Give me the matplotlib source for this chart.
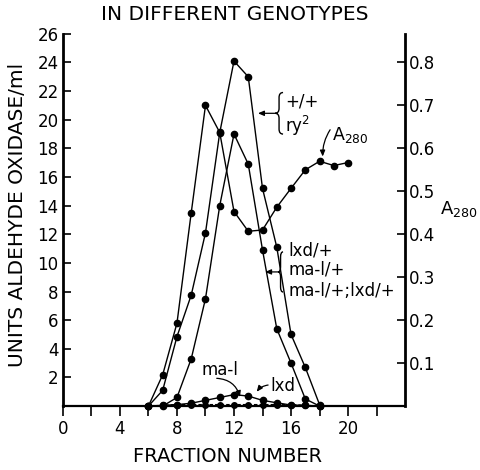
import numpy as np
import matplotlib
matplotlib.use("Agg")
import matplotlib.pyplot as plt
from matplotlib.path import Path
from matplotlib.patches import PathPatch

# ── Data ────────────────────────────────────────────────────────────────────
# aldehyde oxidase activity (units/ml) per fraction
frac_wt = np.arange(6, 19)          # +/+ , ry2
units_wt = [0, 1.1, 4.85, 7.75, 12.1, 19.1, 24.1, 23.0, 15.2, 11.1, 5.0, 2.7, 0.1]

frac_het = np.arange(7, 19)         # lxd/+ , ma-l/+ , ma-l/+;lxd/+
units_het = [0, 0.6, 3.3, 7.5, 14.0, 19.0, 16.9, 10.9, 5.4, 3.0, 0.5, 0.0]

frac_lxd = np.arange(6, 19)         # lxd
units_lxd = [0, 0.05, 0.1, 0.2, 0.4, 0.6, 0.8, 0.7, 0.4, 0.23, 0.07, 0.05, 0]

frac_mal = np.arange(6, 19)         # ma-l
units_mal = [0, 0.05, 0.1, 0.1, 0.1, 0.1, 0.1, 0.1, 0.1, 0.1, 0.1, 0.05, 0]

# absorbance at 280 nm (right axis)
frac_a280 = np.arange(6, 21)
a280 = [0, 0.073, 0.193, 0.45, 0.70, 0.637, 0.453, 0.407, 0.41, 0.463,
        0.507, 0.55, 0.57, 0.56, 0.567]

left_ticks = list(range(2, 27, 2))
right_ticks = [0.1, 0.2, 0.3, 0.4, 0.5, 0.6, 0.7, 0.8]
x_ticks = list(range(0, 23, 2))
x_labels = [str(t) if t % 4 == 0 else '' for t in x_ticks]


def brace(ax, x_tip, x_end, y0, y1):
    """Draw a '{' shaped brace with its point at x_tip."""
    ym = (y0 + y1) / 2
    xm = (x_tip + x_end) / 2
    verts = [(x_end, y1), (xm, y1), (xm, y1 - 0.35),
             (xm, ym + 0.35),
             (xm, ym), (x_tip, ym),
             (xm, ym), (xm, ym - 0.35),
             (xm, y0 + 0.35),
             (xm, y0), (x_end, y0)]
    codes = [Path.MOVETO, Path.CURVE3, Path.CURVE3,
             Path.LINETO,
             Path.CURVE3, Path.CURVE3,
             Path.CURVE3, Path.CURVE3,
             Path.LINETO,
             Path.CURVE3, Path.CURVE3]
    ax.add_patch(PathPatch(Path(verts, codes), fill=False, lw=1.0,
                           color='black', clip_on=False))


fig = plt.figure(figsize=(4.8, 4.7), dpi=100)
ax = fig.add_axes([0.131, 0.136, 0.713, 0.792])
ax2 = ax.twinx()

ax.set_xlim(0, 24)
ax.set_ylim(0, 26)
ax2.set_ylim(0, 26 / 30)

line_kw = dict(color='black', lw=1.0, marker='o', ms=4.5, clip_on=False)
ax.plot(frac_wt, units_wt, **line_kw)
ax.plot(frac_het, units_het, **line_kw)
ax.plot(frac_lxd, units_lxd, **line_kw)
ax.plot(frac_mal, units_mal, color='black', lw=1.0, ls=(0, (2.5, 1.5)),
        marker='o', ms=4, clip_on=False)
ax2.plot(frac_a280, a280, **line_kw)

# spines
for s in ['top', 'right']:
    ax.spines[s].set_visible(False)
for s in ['top', 'left', 'bottom']:
    ax2.spines[s].set_visible(False)
ax.spines['left'].set_linewidth(2.0)
ax.spines['bottom'].set_linewidth(1.6)
ax2.spines['right'].set_linewidth(2.0)

ax.set_yticks(left_ticks)
ax.set_yticklabels([str(t) for t in left_ticks], fontsize=12)
ax.tick_params(axis='y', direction='in', length=6, width=1.2, pad=3)
ax.set_xticks(x_ticks)
ax.set_xticklabels(x_labels, fontsize=12)
ax.tick_params(axis='x', direction='out', length=7, width=1.2, pad=3)

ax2.set_yticks(right_ticks)
ax2.set_yticklabels([f'{t:.1f}' for t in right_ticks], fontsize=12)
ax2.tick_params(axis='y', direction='in', length=6, width=1.2, pad=3)

# titles and axis labels
fig.text(0.49, 0.970, 'IN DIFFERENT GENOTYPES', ha='center', va='center',
         fontsize=14.5)
fig.text(0.475, 0.028, 'FRACTION NUMBER', ha='center', va='center',
         fontsize=14)
fig.text(0.037, 0.543, 'UNITS ALDEHYDE OXIDASE/ml', ha='center',
         va='center', rotation=90, fontsize=14.5)
fig.text(0.916, 0.556, 'A$_{280}$', ha='left', va='center', fontsize=13)

# curve labels
arrow = dict(arrowstyle='-|>,head_length=0.35,head_width=0.15',
             color='black', lw=0.9, shrinkA=0, shrinkB=0)

brace(ax, 14.88, 15.44, 19.0, 21.9)
ax.annotate('', xy=(13.68, 20.45), xytext=(14.88, 20.45), arrowprops=arrow)
ax.text(15.6, 21.3, '+/+', ha='left', va='center', fontsize=12)
ax.text(15.6, 19.55, 'ry$^{2}$', ha='left', va='center', fontsize=12)

brace(ax, 15.09, 15.44, 7.97, 10.77)
ax.annotate('', xy=(14.18, 9.37), xytext=(15.09, 9.37), arrowprops=arrow)
ax.text(15.8, 10.84, 'lxd/+', ha='left', va='center', fontsize=12)
ax.text(15.8, 9.51, 'ma-l/+', ha='left', va='center', fontsize=12)
ax.text(15.8, 8.04, 'ma-l/+;lxd/+', ha='left', va='center', fontsize=12)

ax.text(18.9, 18.95, 'A$_{280}$', ha='left', va='center', fontsize=12.5)
ax.annotate('', xy=(18.22, 17.43), xytext=(18.74, 19.3),
            arrowprops=dict(arrow, connectionstyle='arc3,rad=0.15'))

ax.text(9.75, 2.52, 'ma-l', ha='left', va='center', fontsize=12)
ax.annotate('', xy=(12.42, 0.63), xytext=(10.79, 1.94),
            arrowprops=dict(arrow, connectionstyle='arc3,rad=-0.35'))

ax.text(14.53, 1.4, 'lxd', ha='left', va='center', fontsize=12)
ax.annotate('', xy=(13.59, 1.0), xytext=(14.39, 1.47),
            arrowprops=dict(arrow, connectionstyle='arc3,rad=0.2'))

fig.savefig('out.png', dpi=100)
